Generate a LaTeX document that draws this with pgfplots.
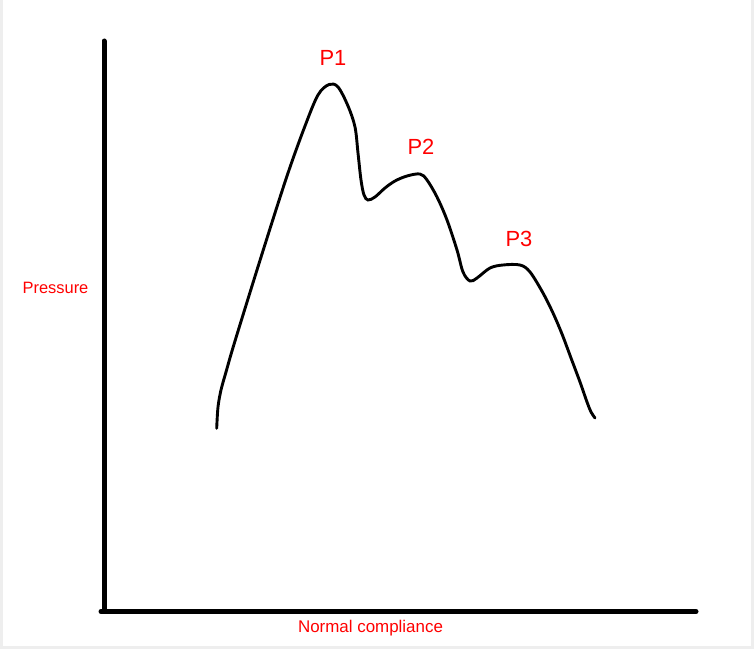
\documentclass[border=0pt]{standalone}
\usepackage{pgfplots}
\pgfplotsset{compat=1.18}
\usepackage{fontspec}
\setmainfont{Liberation Sans}
\definecolor{lblred}{RGB}{255,0,0}
\definecolor{edge}{RGB}{238,238,238}
\begin{document}
\begin{tikzpicture}
\begin{axis}[
  scale only axis, width=754bp, height=649bp,
  xmin=0, xmax=754, ymin=0, ymax=649, y dir=reverse,
  hide axis, clip=false,
]
% background with light edge
\fill[edge] (axis cs:0,0) rectangle (axis cs:754,649);
\fill[white] (axis cs:3,0) rectangle (axis cs:751,646);
% axes lines
\addplot[black, line width=5bp, line cap=round] coordinates {(104,41) (104,609)};
\addplot[black, line width=5bp, line cap=round] coordinates {(101,611.5) (696,611.5)};
% curve
\addplot[black, line width=2.9bp, smooth, tension=0.55, line cap=round] coordinates {
(216.7,428.3) (218,407) (221,390) (226,372) (235,341) (262,254) (287,176)
(305,126) (318,95) (329,84.5)
(338,87) (348,106) (355,127) (358,153) (361,180) (364,195)
(368,200) (375,197) (385,188) (395,181) (407,176) (420,174) (427,180)
(437,197) (447,220) (457,250) (463,272) (470,281) (477,278) (490,268)
(503,265) (520,265) (530,272) (543,293) (553,313) (562,334) (571,358)
(580,382) (587,402) (591,412) (595,418)
};
\node[text=lblred, font=\fontsize{22}{26}\selectfont] at (axis cs:333,58) {P1};
\node[text=lblred, font=\fontsize{22}{26}\selectfont] at (axis cs:421,147) {P2};
\node[text=lblred, font=\fontsize{22}{26}\selectfont] at (axis cs:519,239) {P3};
\node[text=lblred, font=\fontsize{16.5}{20}\selectfont] at (axis cs:55.5,288) {Pressure};
\node[text=lblred, font=\fontsize{17}{20}\selectfont] at (axis cs:370.5,628) {Normal compliance};
\end{axis}
\end{tikzpicture}
\end{document}
